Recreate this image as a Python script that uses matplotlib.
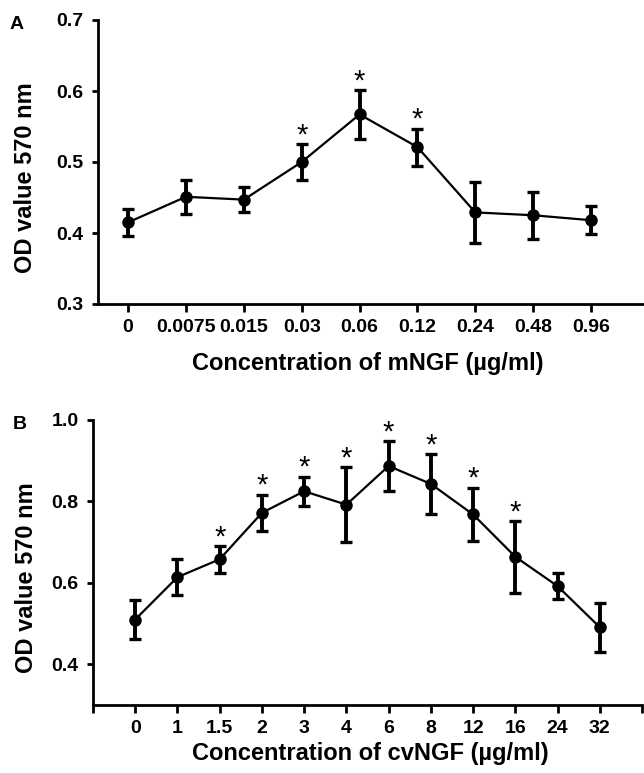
import numpy as np
import matplotlib
matplotlib.use("Agg")
import matplotlib.pyplot as plt

plt.rcParams['font.family'] = ['Liberation Sans', 'DejaVu Sans']
plt.rcParams['font.weight'] = 'bold'

# ---- Panel A data ----
a_labels = ['0', '0.0075', '0.015', '0.03', '0.06', '0.12', '0.24', '0.48', '0.96']
a_mean = [0.415, 0.451, 0.447, 0.500, 0.567, 0.521, 0.429, 0.425, 0.418]
a_err = [0.019, 0.024, 0.018, 0.025, 0.034, 0.026, 0.043, 0.033, 0.020]
a_star = [False, False, False, True, True, True, False, False, False]
a_yticks = [0.3, 0.4, 0.5, 0.6, 0.7]

# ---- Panel B data ----
b_labels = ['0', '1', '1.5', '2', '3', '4', '6', '8', '12', '16', '24', '32']
b_mean = [0.510, 0.614, 0.658, 0.772, 0.825, 0.792, 0.887, 0.843, 0.768, 0.664, 0.592, 0.491]
b_err = [0.049, 0.044, 0.033, 0.045, 0.036, 0.092, 0.062, 0.073, 0.066, 0.088, 0.032, 0.060]
b_star = [False, False, True, True, True, True, True, True, True, True, False, False]
b_yticks = [0.4, 0.6, 0.8, 1.0]

W, H = 644, 773
fig = plt.figure(figsize=(W / 100, H / 100), dpi=100)

def px_axes(left, top, right, bottom):
    return fig.add_axes([left / W, 1 - bottom / H, (right - left) / W, (bottom - top) / H])

def draw(ax, labels, mean, err, star):
    x = np.arange(len(labels))
    ax.errorbar(x, mean, yerr=err, fmt='o-', color='black', ms=8, lw=1.6,
                elinewidth=2.8, capsize=4.3, capthick=2.4, zorder=3)
    for xi, m, e, s in zip(x, mean, err, star):
        if s:
            ax.annotate('*', (xi, m + e), xytext=(0, 0.5), textcoords='offset points',
                        ha='center', va='baseline', fontsize=21, fontweight='normal')
    for sp in ['top', 'right']:
        ax.spines[sp].set_visible(False)
    for sp in ['left', 'bottom']:
        ax.spines[sp].set_linewidth(2.0)
    ax.tick_params(axis='both', width=2.0, labelsize=14)
    ax.tick_params(axis='y', length=4.5, pad=6)
    ax.tick_params(axis='x', length=6, pad=5)

# Panel A
axA = px_axes(98, 20, 646, 304)
draw(axA, a_labels, a_mean, a_err, a_star)
axA.set_ylim(0.3, 0.7)
axA.set_yticks(a_yticks)
axA.set_yticklabels([f'{v:.1f}' for v in a_yticks])
axA.set_xlim(-0.52, 8.95)
axA.set_xticks(np.arange(len(a_labels)))
axA.set_xticklabels(a_labels)
axA.set_xlabel('Concentration of mNGF (µg/ml)', fontsize=17, fontweight='bold')
axA.set_ylabel('OD value 570 nm', fontsize=17, fontweight='bold')
axA.xaxis.set_label_coords(0.493, -0.169)
axA.yaxis.set_label_coords(-0.112, 0.444)

# Panel B
axB = px_axes(93, 420, 642, 705)
draw(axB, b_labels, b_mean, b_err, b_star)
axB.set_ylim(0.3, 1.0)
axB.set_yticks(b_yticks)
axB.set_yticklabels([f'{v:.1f}' for v in b_yticks])
axB.set_xlim(-1, 12)
xt = np.arange(-1, len(b_labels) + 1)
axB.set_xticks(xt)
axB.set_xticklabels([''] + b_labels + [''])
axB.set_xlabel('Concentration of cvNGF (µg/ml)', fontsize=17, fontweight='bold')
axB.set_ylabel('OD value 570 nm', fontsize=17, fontweight='bold')
axB.xaxis.set_label_coords(0.506, -0.130)
axB.yaxis.set_label_coords(-0.100, 0.447)

fig.text(10 / W, 1 - 29 / H, 'A', fontsize=14, fontweight='bold', ha='left', va='baseline')
fig.text(13 / W, 1 - 429 / H, 'B', fontsize=14, fontweight='bold', ha='left', va='baseline')

fig.savefig('out.png', dpi=100)
